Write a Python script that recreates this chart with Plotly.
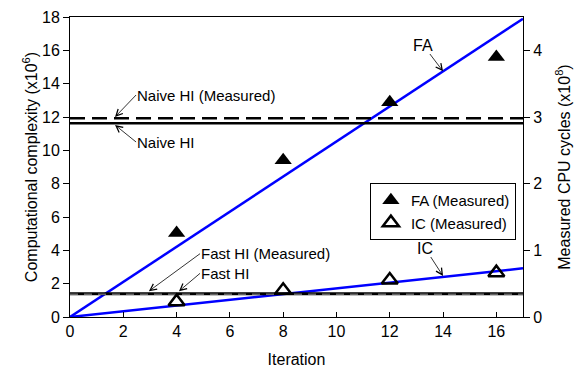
import plotly.graph_objects as go

# Iterations and measured CPU cycles (x10^8)
iterations = [4, 8, 12, 16]
fa_measured = [1.26, 2.35, 3.22, 3.90]
ic_measured = [0.23, 0.40, 0.555, 0.665]

# Analytic complexity models (x10^6)
model_x = [0, 17]
fa_model = [0, 17.9]
ic_model = [0, 2.92]
naive_hi = 11.62
naive_hi_measured = 11.92
fast_hi = 1.40
fast_hi_measured = 1.37

FONT = "Liberation Sans, Arial, sans-serif"

fig = go.Figure()

fig.add_trace(go.Scatter(x=model_x, y=fa_model, mode="lines",
                         line=dict(color="#0000ff", width=2.5), showlegend=False))
fig.add_trace(go.Scatter(x=model_x, y=ic_model, mode="lines",
                         line=dict(color="#0000ff", width=2.5), showlegend=False))
fig.add_trace(go.Scatter(x=model_x, y=[naive_hi] * 2, mode="lines",
                         line=dict(color="black", width=2.5), showlegend=False))
fig.add_trace(go.Scatter(x=model_x, y=[naive_hi_measured] * 2, mode="lines",
                         line=dict(color="black", width=2.5, dash="15px,7px"),
                         showlegend=False))
fig.add_trace(go.Scatter(x=model_x, y=[fast_hi] * 2, mode="lines",
                         line=dict(color="black", width=3), showlegend=False))
fig.add_trace(go.Scatter(x=model_x, y=[fast_hi_measured] * 2, mode="lines",
                         line=dict(color="#9a9a9a", width=1, dash="8px,6px"),
                         showlegend=False))

fig.add_trace(go.Scatter(x=iterations, y=fa_measured, mode="markers", yaxis="y2",
                         name="FA (Measured)",
                         marker=dict(symbol="triangle-up", size=15, color="black")))
fig.add_trace(go.Scatter(x=iterations, y=ic_measured, mode="markers", yaxis="y2",
                         name="IC (Measured)",
                         marker=dict(symbol="triangle-up-open", size=14, color="black",
                                     line=dict(width=2.5, color="black"))))

# Callout labels: text, anchor, text position (tail), arrow tip, font size
callouts = [
    ("FA", "center", 13.25, 16.32, 14.0, 14.74, 16),
    ("IC", "center", 13.32, 4.14, 14.0, 2.46, 16),
    ("Naive HI (Measured)", "left", 2.48, 13.32, 1.69, 12.0, 15),
    ("Naive HI", "left", 2.48, 10.5, 1.69, 11.52, 15),
    ("Fast HI (Measured)", "left", 4.88, 3.80, 2.96, 1.55, 15),
    ("Fast HI", "left", 4.88, 2.62, 4.09, 1.55, 15),
]
for text, anchor, tx, ty, px, py, size in callouts:
    fig.add_annotation(x=px, y=py, ax=tx, ay=ty, axref="x", ayref="y",
                       text=text, xanchor=anchor, showarrow=True, borderpad=0,
                       arrowhead=5, arrowsize=1.6, arrowwidth=0.8, arrowcolor="black",
                       font=dict(family=FONT, size=size, color="black"))

fig.update_layout(
    width=576, height=368,
    margin=dict(l=70, r=53, t=17, b=51),
    paper_bgcolor="white", plot_bgcolor="white",
    font=dict(family=FONT, size=16, color="black"),
    xaxis=dict(range=[0, 17], dtick=2, ticks="inside", ticklen=5, tickcolor="black",
               showline=True, linecolor="black", linewidth=1, mirror=True,
               showgrid=False, zeroline=False, automargin=False,
               title=dict(text="Iteration", font=dict(size=16), standoff=14)),
    yaxis=dict(range=[0, 18], dtick=2, ticks="outside", ticklen=6, tickcolor="black",
               showline=True, linecolor="black", linewidth=1,
               showgrid=False, zeroline=False, automargin=False,
               title=dict(text="Computational complexity (x10<sup>6</sup>)",
                          font=dict(size=16), standoff=0)),
    yaxis2=dict(range=[0, 4.5], dtick=1, ticks="outside", ticklen=6, tickcolor="black",
                overlaying="y", side="right", showline=True, linecolor="black",
                linewidth=1, showgrid=False, zeroline=False, automargin=False,
                title=dict(text="Measured CPU cycles (x10<sup>8</sup>)",
                           font=dict(size=16), standoff=17)),
    legend=dict(x=0.662, y=0.447, xanchor="left", yanchor="top",
                bordercolor="black", borderwidth=1, bgcolor="white",
                font=dict(size=15), itemwidth=30, tracegroupgap=0),
)

fig.write_html("out.html")
